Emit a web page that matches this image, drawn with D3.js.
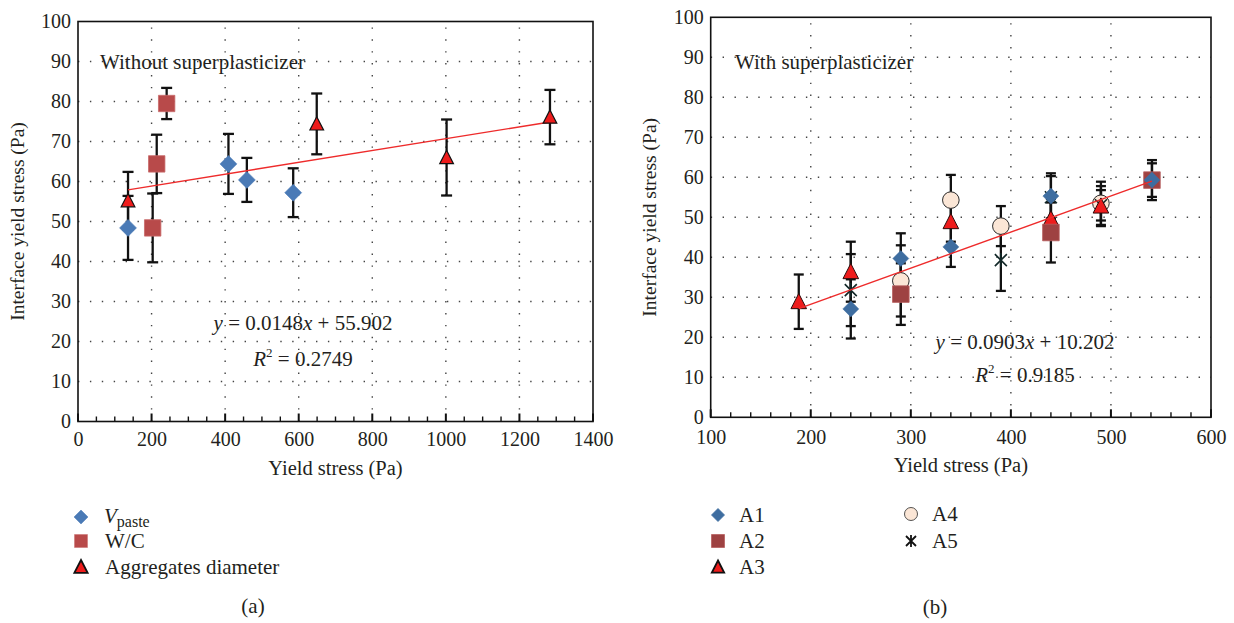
<!DOCTYPE html>
<html><head><meta charset="utf-8">
<script src="https://cdn.jsdelivr.net/npm/d3@7"></script>
<style>body{margin:0;background:#fff}svg{display:block}text{font-family:"Liberation Serif","Times New Roman",serif;fill:#231f20}</style>
</head><body>
<svg id="c" width="1234" height="623"></svg>
<script>
// ---------- data (x, y, error) ----------
const vpaste = [[136,48.4,8.0],[409,64.4,7.5],[459,60.4,5.5],[585,57.2,6.1]];
const wc     = [[203,48.4,8.6],[214,64.4,7.3],[241,79.5,3.9]];
const aggDia = [[136,55.2,7.2],[649,74.4,7.6],[1002,66.0,9.5],[1283,76.1,6.8]];
const fitLeft = {slope:0.0148, intercept:55.902, xmin:136, xmax:1283};

const A1 = [[240,27.1,7.4],[290,39.7,6.3],[340,42.6,5.0],[440,55.3,5.7],[541,59.3,4.2]];
const A2 = [[290,30.8,7.7],[440,46.2,7.5],[541,59.3,5.0]];
const A3 = [[188,28.9,6.8],[240,36.4,7.5],[340,48.9,5.0],[440,49.6,5.0],[490,52.8,5.0]];
const A4 = [[290,34.1,8.9],[340,54.3,6.3],[390,47.8,5.0],[490,53.5,5.4]];
const A5 = [[240,31.8,9.0],[390,39.3,7.7],[440,55.0,5.3],[490,53.0,3.8]];
const fitRight = {slope:0.0903, intercept:10.202, xmin:188, xmax:541};

const yTicks = [0,10,20,30,40,50,60,70,80,90,100];
const xTicksLeft = [0,200,400,600,800,1000,1200,1400];
const xTicksRight = [100,200,300,400,500,600];

// ---------- setup ----------
const svg = d3.select("#c");
const TICKF = 20, TEXTF = 21, XTF = 20.5, YTF = 19.5;

function shape(type, s){
  if(type==="diamond"){return `M0,${-s}L${s},0L0,${s}L${-s},0Z`;}
  if(type==="square"){return `M${-s},${-s}H${s}V${s}H${-s}Z`;}
  if(type==="triangle"){return `M0,${-s}L${s*0.95},${s*0.85}L${-s*0.95},${s*0.85}Z`;}
  if(type==="circle"){return `M${s},0A${s},${s} 0 1 1 ${-s},0A${s},${s} 0 1 1 ${s},0Z`;}
  if(type==="star"){return `M${-s},${-s}L${s},${s}M${-s},${s}L${s},${-s}M0,${-s*1.2}V${s*1.2}`;}
}

function panel(cfg){
  const g = svg.append("g");
  const x = d3.scaleLinear().domain(cfg.xdom).range(cfg.xr);
  const y = d3.scaleLinear().domain([0,100]).range(cfg.yr);
  // grid
  const grid = g.append("g").attr("stroke","#444").attr("stroke-width",1.4).attr("stroke-dasharray","1.4,10.5");
  yTicks.filter(t=>t>0&&t<100).forEach(t=>grid.append("line").attr("x1",cfg.xr[0]).attr("x2",cfg.xr[1]).attr("y1",y(t)).attr("y2",y(t)));
  cfg.vgrid.forEach(t=>grid.append("line").attr("x1",x(t)).attr("x2",x(t)).attr("y1",cfg.yr[0]).attr("y2",cfg.yr[1]));
  // frame
  g.append("rect").attr("x",cfg.xr[0]).attr("y",cfg.yr[1]).attr("width",cfg.xr[1]-cfg.xr[0]).attr("height",cfg.yr[0]-cfg.yr[1]).attr("fill","none").attr("stroke","#111").attr("stroke-width",1.6);
  // x axis ticks (inward)
  const xa = d3.axisBottom(x).tickValues(cfg.xticks).tickFormat(d3.format("d")).tickSize(0).tickPadding(cfg.xpad);
  const xg = g.append("g").attr("transform",`translate(0,${cfg.yr[0]})`).call(xa);
  xg.select(".domain").remove();
  xg.selectAll("text").attr("font-size",TICKF).attr("font-family","Liberation Serif").attr("fill","#231f20");
  const minor = d3.range(cfg.xdom[0],cfg.xdom[1]+1e-9,cfg.minor);
  minor.forEach(t=>{
    const major = Math.abs((t-cfg.xdom[0])%cfg.major)<1e-6;
    g.append("line").attr("x1",x(t)).attr("x2",x(t)).attr("y1",cfg.yr[0]).attr("y2",cfg.yr[0]-(major?8:5)).attr("stroke","#111").attr("stroke-width",major?2:1.4);
  });
  // y axis
  const ya = d3.axisLeft(y).tickValues(yTicks).tickSize(0).tickPadding(7);
  const yg = g.append("g").attr("transform",`translate(${cfg.xr[0]},0)`).call(ya);
  yg.select(".domain").remove();
  yg.selectAll("text").attr("font-size",TICKF).attr("font-family","Liberation Serif").attr("fill","#231f20");
  // titles
  g.append("text").attr("x",(cfg.xr[0]+cfg.xr[1])/2).attr("y",cfg.yr[0]+cfg.xtdy).attr("text-anchor","middle").attr("font-size",XTF).text("Yield stress (Pa)");
  g.append("text").attr("transform",`translate(${cfg.ytx},${(cfg.yr[0]+cfg.yr[1])/2}) rotate(-90)`).attr("text-anchor","middle").attr("font-size",YTF).text("Interface yield stress (Pa)");
  return {g,x,y};
}

function errorbars(p, data, cap){
  const eg = p.g.append("g").attr("stroke","#111").attr("stroke-width",2.3);
  data.forEach(d=>{
    eg.append("line").attr("x1",p.x(d[0])).attr("x2",p.x(d[0])).attr("y1",p.y(d[1]-d[2])).attr("y2",p.y(d[1]+d[2]));
    [d[1]-d[2],d[1]+d[2]].forEach(v=>eg.append("line").attr("x1",p.x(d[0])-cap).attr("x2",p.x(d[0])+cap).attr("y1",p.y(v)).attr("y2",p.y(v)));
  });
}
function markers(p, data, type, size, fill, stroke, sw){
  p.g.append("g").selectAll("path").data(data).join("path")
    .attr("transform",d=>`translate(${p.x(d[0])},${p.y(d[1])})`)
    .attr("d",shape(type,size)).attr("fill",fill).attr("stroke",stroke).attr("stroke-width",sw);
}
function fitline(p, f){
  p.g.append("line").attr("x1",p.x(f.xmin)).attr("x2",p.x(f.xmax))
    .attr("y1",p.y(f.slope*f.xmin+f.intercept)).attr("y2",p.y(f.slope*f.xmax+f.intercept))
    .attr("stroke","#ee2b2b").attr("stroke-width",1.4);
}
function equation(p, cx, cy, slope, icpt, r2, gap){
  const e = p.g.append("text").attr("x",cx).attr("y",cy).attr("text-anchor","middle").attr("font-size",TEXTF);
  e.append("tspan").attr("font-style","italic").text("y");
  e.append("tspan").text(" = "+slope);
  e.append("tspan").attr("font-style","italic").text("x");
  e.append("tspan").text(" + "+icpt);
  const r = p.g.append("text").attr("x",cx).attr("y",cy+gap).attr("text-anchor","middle").attr("font-size",TEXTF);
  r.append("tspan").attr("font-style","italic").text("R");
  r.append("tspan").attr("font-size",13).attr("dy",-9).text("2");
  r.append("tspan").attr("dy",9).text(" = "+r2);
}

// ---------- left panel ----------
const L = panel({xdom:[0,1400],xr:[78,593],yr:[421.5,21.5],xticks:xTicksLeft,vgrid:[200,400,600,800,1000,1200],minor:50,major:200,ytx:24,xpad:10,xtdy:53});
errorbars(L, vpaste, 5.5); errorbars(L, wc, 5.5); errorbars(L, aggDia, 5.5);
markers(L, vpaste, "diamond", 8.5, "#4a7ab6", "#4a7ab6", 0.5);
markers(L, wc, "square", 8.2, "#b84a4a", "#c86a6a", 0.8);
fitline(L, fitLeft);
markers(L, aggDia, "triangle", 7.2, "#ee1c1c", "#111", 1.2);

L.g.append("text").attr("x",100).attr("y",69).attr("font-size",TEXTF).text("Without superplasticizer");
equation(L, 303, 330, "0.0148", "55.902", "0.2749", 36);

// ---------- right panel ----------
const R = panel({xdom:[100,600],xr:[710.7,1211],yr:[417.3,17.3],xticks:xTicksRight,vgrid:[200,300,400,500],minor:20,major:100,ytx:656,xpad:13,xtdy:55});
[A1,A2,A3,A4,A5].forEach(s=>errorbars(R, s, 5));
markers(R, A4, "circle", 8.3, "#fbe6d6", "#2a2a2a", 1);
markers(R, A5, "star", 6, "none", "#122828", 1.6);
markers(R, A3, "triangle", 8.2, "#ee1c1c", "#2a0a0a", 1);
markers(R, A2, "square", 8.3, "#9e4242", "#b86060", 0.8);
markers(R, A1, "diamond", 8, "#3e6da0", "#3e6da0", 0.5);
fitline(R, fitRight);

R.g.append("text").attr("x",735).attr("y",69).attr("font-size",TEXTF).text("With superplasticizer");
equation(R, 1025, 349, "0.0903", "10.202", "0.9185", 33);

// ---------- legends ----------
const legL = svg.append("g");
const legLItems = [
  {type:"diamond",fill:"#4a7ab6",stroke:"#4a7ab6",size:7,y:517},
  {type:"square",fill:"#b84a4a",stroke:"#c86a6a",size:6.5,y:541},
  {type:"triangle",fill:"#ee1c1c",stroke:"#111",size:7,y:567}
];
legLItems.forEach(it=>legL.append("path").attr("transform",`translate(81,${it.y})`).attr("d",shape(it.type,it.size)).attr("fill",it.fill).attr("stroke",it.stroke).attr("stroke-width",it.type==="triangle"?1.8:0.5));
const t1 = legL.append("text").attr("x",104).attr("y",523).attr("font-size",TEXTF);
t1.append("tspan").attr("font-style","italic").text("V");
t1.append("tspan").attr("font-size",16).attr("dy",4).text("paste");
legL.append("text").attr("x",105).attr("y",548).attr("font-size",TEXTF).text("W/C");
legL.append("text").attr("x",105).attr("y",574).attr("font-size",TEXTF).text("Aggregates diameter");
svg.append("text").attr("x",253).attr("y",613).attr("text-anchor","middle").attr("font-size",TEXTF).text("(a)");

const legR = svg.append("g");
const legRItems = [
  {name:"A1",type:"diamond",fill:"#3e6da0",stroke:"#3e6da0",x:718,y:515},
  {name:"A2",type:"square",fill:"#9e4242",stroke:"#b86060",x:718,y:541},
  {name:"A3",type:"triangle",fill:"#ee1c1c",stroke:"#111",x:718,y:567},
  {name:"A4",type:"circle",fill:"#fbe6d6",stroke:"#2a2a2a",x:911,y:514},
  {name:"A5",type:"star",fill:"none",stroke:"#111",x:911,y:541}
];
legRItems.forEach(it=>{
  legR.append("path").attr("transform",`translate(${it.x},${it.y})`).attr("d",shape(it.type,it.type==="star"?5:6.5)).attr("fill",it.fill).attr("stroke",it.stroke).attr("stroke-width",it.type==="triangle"?1.8:(it.type==="star"?1.8:0.8));
  legR.append("text").attr("x",it.x+21).attr("y",it.y+7).attr("font-size",TEXTF).text(it.name);
});
svg.append("text").attr("x",935).attr("y",614).attr("text-anchor","middle").attr("font-size",TEXTF).text("(b)");
</script>
</body></html>
